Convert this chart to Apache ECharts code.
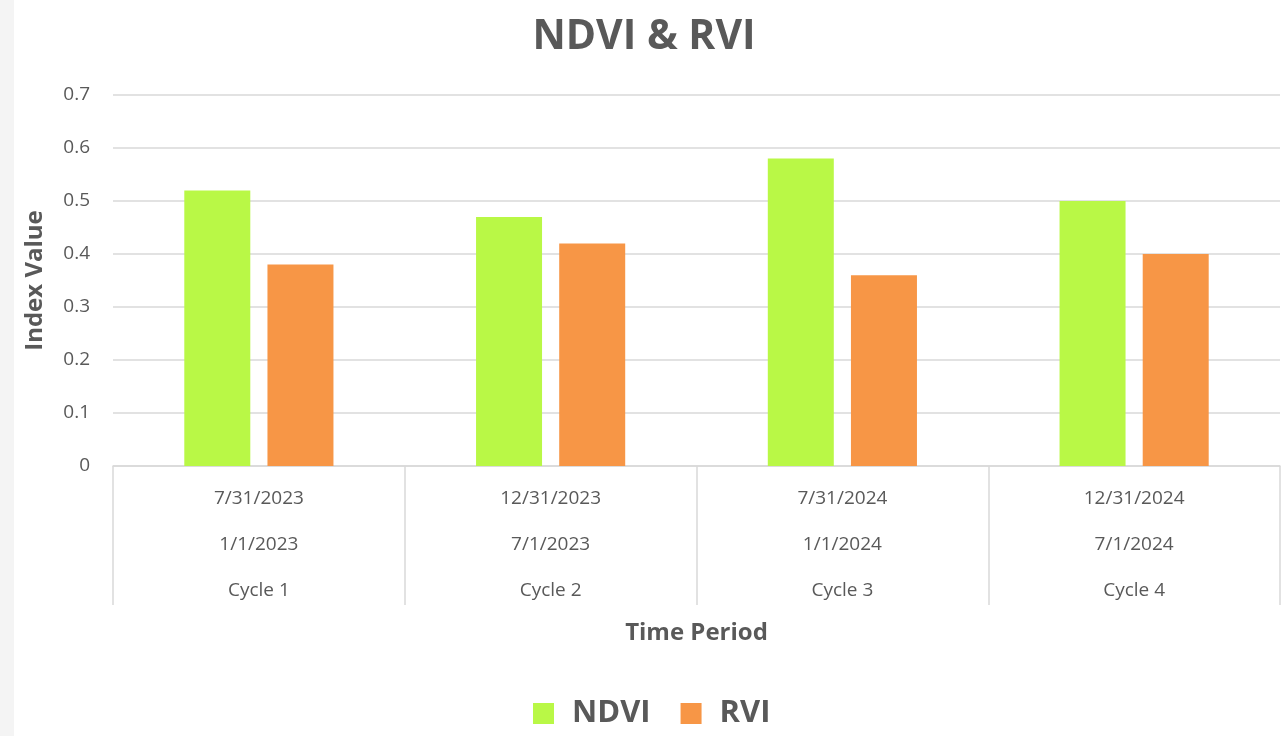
<!DOCTYPE html>
<html>
<head>
<meta charset="utf-8">
<script src="https://cdn.jsdelivr.net/npm/echarts@6/dist/echarts.min.js"></script>
<style>
html,body{margin:0;padding:0;background:#fff;}
#chart{width:1288px;height:736px;}
</style>
</head>
<body>
<div id="chart"></div>
<script>
const endDates = ['7/31/2023', '12/31/2023', '7/31/2024', '12/31/2024'];
const startDates = ['1/1/2023', '7/1/2023', '1/1/2024', '7/1/2024'];
const cycles = ['Cycle 1', 'Cycle 2', 'Cycle 3', 'Cycle 4'];
const ndvi = [0.52, 0.47, 0.58, 0.50];
const rvi = [0.38, 0.42, 0.36, 0.40];

const categories = cycles.map((c, i) => endDates[i] + '\n' + startDates[i] + '\n' + c);
const font = '"Open Sans", "Noto Sans", sans-serif';
const txt = '#595959';

const chart = echarts.init(document.getElementById('chart'));
chart.setOption({
  animation: false,
  backgroundColor: '#ffffff',
  textStyle: { fontFamily: font },
  graphic: [{
    type: 'rect', left: 0, top: 0, shape: { width: 14, height: 736 },
    style: { fill: '#f4f4f4' }, silent: true
  }],
  title: {
    text: 'NDVI & RVI',
    left: 'center',
    top: 12,
    textStyle: { fontFamily: font, fontSize: 41, fontWeight: 'bold', color: txt }
  },
  legend: {
    bottom: 2,
    left: 528,
    itemWidth: 21,
    itemHeight: 21,
    itemGap: 30,
    icon: 'rect',
    textStyle: { fontFamily: font, fontSize: 31, fontWeight: 'bold', color: txt, padding: [0, 0, 0, 13] },
    data: ['NDVI', 'RVI']
  },
  grid: { left: 113, right: 8, top: 95, bottom: 270, containLabel: false },
  xAxis: {
    type: 'category',
    data: categories,
    name: 'Time Period',
    nameLocation: 'middle',
    nameGap: 155,
    nameTextStyle: { fontFamily: font, fontSize: 24, fontWeight: 'bold', color: txt },
    axisLine: { lineStyle: { color: '#d9d9d9', width: 1.5 } },
    axisTick: { show: true, length: 139, lineStyle: { color: '#d9d9d9', width: 1.5 } },
    axisLabel: { fontSize: 19, color: txt, lineHeight: 46, margin: 10, fontFamily: font }
  },
  yAxis: {
    type: 'value',
    min: 0,
    max: 0.7,
    interval: 0.1,
    name: 'Index Value',
    nameLocation: 'middle',
    nameRotate: 90,
    nameGap: 66,
    nameTextStyle: { fontFamily: font, fontSize: 24, fontWeight: 'bold', color: txt },
    axisLine: { show: false },
    axisTick: { show: false },
    axisLabel: { fontSize: 19, color: txt, margin: 23, fontFamily: font,
      formatter: v => (v === 0 ? '0' : String(Math.round(v * 10) / 10)) },
    splitLine: { lineStyle: { color: '#d9d9d9', width: 1.5 } }
  },
  series: [
    { name: 'NDVI', type: 'bar', data: ndvi, itemStyle: { color: '#B9F846' },
      barWidth: 66, barGap: '26%' },
    { name: 'RVI', type: 'bar', data: rvi, itemStyle: { color: '#F79646' },
      barWidth: 66, barGap: '26%' }
  ]
});
</script>
</body>
</html>
